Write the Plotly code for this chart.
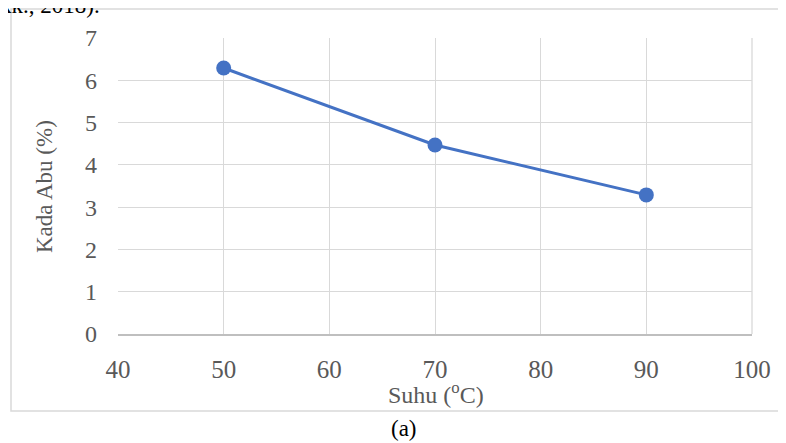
import plotly.graph_objects as go

suhu = [50, 70, 90]
kadar_abu = [6.29, 4.47, 3.29]
x_ticks = [40, 50, 60, 70, 80, 90, 100]
y_ticks = [0, 1, 2, 3, 4, 5, 6, 7]

OFF = 8  # default page body margin
W, H = 786 - OFF, 443 - OFF
L, R, T, B = 118 - OFF, 34, 38 - OFF, 109
pw, ph = W - L - R, H - T - B

def px(x):
    return (x - OFF - L) / pw

def py(y):
    return (H - B - (y - OFF)) / ph

FONT = "Liberation Serif"
GRAY = "#595959"

fig = go.Figure()
fig.add_trace(go.Scatter(
    x=suhu, y=kadar_abu, mode="lines+markers",
    line=dict(color="#4472C4", width=3),
    marker=dict(color="#4472C4", size=15),
    showlegend=False, hoverinfo="skip",
))

fig.update_layout(
    width=W, height=H,
    margin=dict(l=L, r=R, t=T, b=B),
    paper_bgcolor="white", plot_bgcolor="white",
    font=dict(family=FONT, color=GRAY, size=23),
    xaxis=dict(range=[40, 100], tickvals=x_ticks, showgrid=True,
               gridcolor="#D9D9D9", gridwidth=1.3, showline=True,
               linecolor="#BFBFBF", linewidth=1.5, zeroline=False,
               ticks="", ticklabelstandoff=12,
               tickfont=dict(size=25, color=GRAY, family=FONT)),
    yaxis=dict(range=[0, 7], tickvals=y_ticks, showgrid=True,
               gridcolor="#D9D9D9", gridwidth=1.3, showline=False,
               zeroline=False, ticks="", ticklabelstandoff=20,
               tickfont=dict(size=24, color=GRAY, family=FONT)),
    shapes=[
        dict(type="rect", xref="paper", yref="paper",
             x0=px(11), x1=px(800), y0=py(411), y1=py(9),
             line=dict(color="#D9D9D9", width=1.5), layer="below"),
        dict(type="line", xref="paper", yref="paper",
             x0=px(752), x1=px(752), y0=py(334), y1=py(38),
             line=dict(color="#D9D9D9", width=1.3)),
    ],
    annotations=[
        dict(text="Suhu (<sup>o</sup>C)", xref="paper", yref="paper",
             x=px(436), y=py(393), showarrow=False,
             font=dict(size=24, color=GRAY, family=FONT),
             xanchor="center", yanchor="middle"),
        dict(text="Kada Abu (%)", xref="paper", yref="paper",
             x=px(44), y=py(187), showarrow=False, textangle=-90,
             font=dict(size=23, color=GRAY, family=FONT),
             xanchor="center", yanchor="middle"),
        dict(text="(a)", xref="paper", yref="paper",
             x=px(404), y=py(428), showarrow=False,
             font=dict(size=23, color="black", family=FONT),
             xanchor="center", yanchor="middle"),
        dict(text="kk., 2018).", xref="paper", yref="paper",
             x=px(-2), y=py(5), showarrow=False,
             font=dict(size=23, color="black", family=FONT),
             xanchor="left", yanchor="middle"),
    ],
)

fig.write_html("out.html")
